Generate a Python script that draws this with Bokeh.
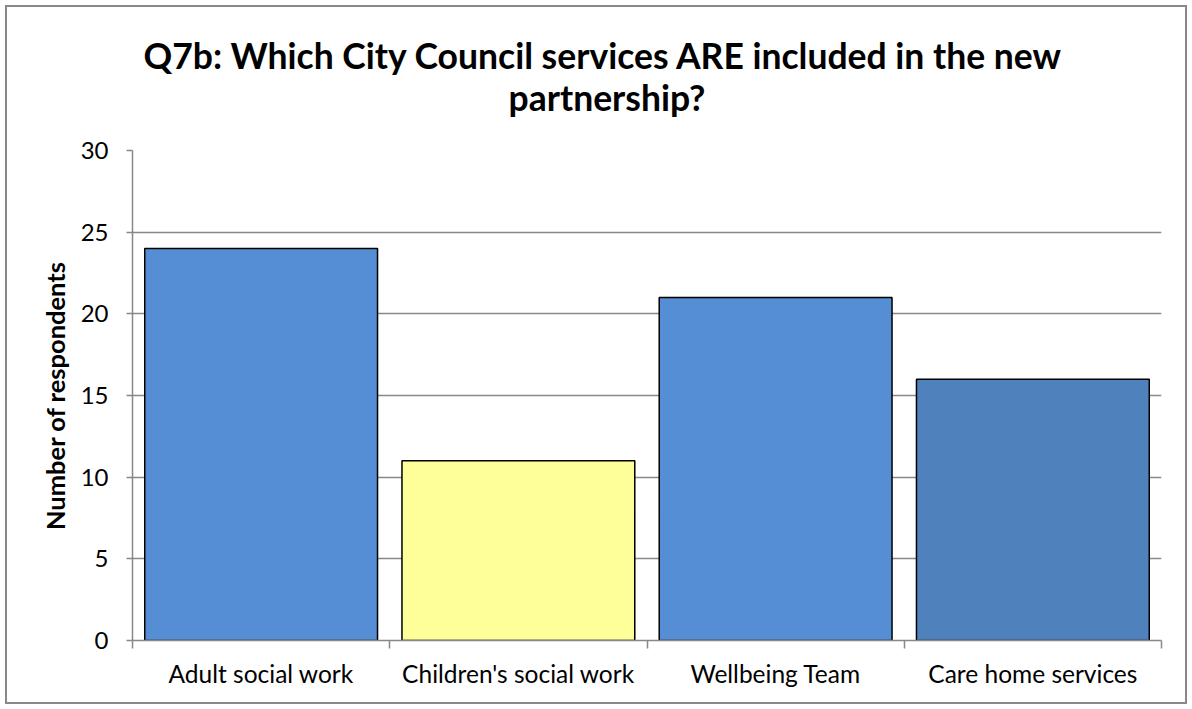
from bokeh.plotting import figure
from bokeh.models import (Range1d, LinearAxis, FixedTicker, Title, ColumnDataSource, Grid)
from bokeh.embed import file_html
from bokeh.resources import INLINE

categories = ["Adult social work", "Children's social work", "Wellbeing Team", "Care home services"]
values = [24, 11, 21, 16]
colors = ["#558ED5", "#FFFF99", "#558ED5", "#4F81BD"]
y_ticks = [0, 5, 10, 15, 20, 25, 30]
title_lines = ["Q7b: Which City Council services ARE included in the new", "partnership?"]
y_label = "Number of respondents"

FONT = "Lato"
GRAY = "#888888"

n = len(categories)
centers = [i + 0.5 for i in range(n)]

p = figure(width=1182, height=699, output_backend="svg", toolbar_location=None,
           x_range=Range1d(0, n), y_range=Range1d(0, 30),
           x_axis_location=None, y_axis_location=None,
           min_border_left=125, min_border_right=28, min_border_top=143, min_border_bottom=66,
           background_fill_color="white", border_fill_color="white")
p.outline_line_color = None
p.styles = {"border": "2px solid #888888", "margin-left": "5px", "margin-top": "5px"}
for g in p.grid:
    g.visible = False

src = ColumnDataSource(dict(x=centers, top=values, color=colors, name=categories))

grid = Grid(dimension=1, ticker=FixedTicker(ticks=y_ticks), grid_line_color=GRAY, grid_line_width=1.5)
p.add_layout(grid, "center")

p.vbar(x="x", top="top", width=0.905, source=src, fill_color="color",
       line_color="black", line_width=1.5)

yaxis = LinearAxis(ticker=FixedTicker(ticks=y_ticks), axis_label=y_label)
yaxis.axis_line_color = GRAY
yaxis.axis_line_width = 1.5
yaxis.major_tick_line_color = GRAY
yaxis.major_tick_line_width = 1.5
yaxis.major_tick_out = 6
yaxis.major_tick_in = 0
yaxis.minor_tick_line_color = None
yaxis.major_label_text_font = FONT
yaxis.major_label_text_font_size = "24px"
yaxis.major_label_text_color = "black"
yaxis.major_label_standoff = 18
yaxis.axis_label_text_font = FONT
yaxis.axis_label_text_font_size = "25.5px"
yaxis.axis_label_text_font_style = "bold"
yaxis.axis_label_text_color = "black"
yaxis.axis_label_standoff = 8
p.add_layout(yaxis, "left")

bnd_axis = LinearAxis(ticker=FixedTicker(ticks=list(range(n + 1))))
bnd_axis.axis_line_color = GRAY
bnd_axis.axis_line_width = 1.5
bnd_axis.major_tick_line_color = GRAY
bnd_axis.major_tick_line_width = 1.5
bnd_axis.major_tick_out = 8
bnd_axis.major_tick_in = 0
bnd_axis.minor_tick_line_color = None
bnd_axis.major_label_text_font_size = "1px"
bnd_axis.major_label_text_alpha = 0
bnd_axis.major_label_standoff = 0
p.add_layout(bnd_axis, "below")

xaxis = LinearAxis(ticker=FixedTicker(ticks=centers),
                   major_label_overrides={c: name for c, name in zip(centers, categories)})
xaxis.axis_line_color = None
xaxis.major_tick_line_color = None
xaxis.minor_tick_line_color = None
xaxis.major_label_text_font = FONT
xaxis.major_label_text_font_size = "24.5px"
xaxis.major_label_text_color = "black"
xaxis.major_label_standoff = 4
p.add_layout(xaxis, "below")

# invisible spacer between the plot frame and the two title lines
spacer = Title(text=" ", align="left", text_font=FONT, text_font_size="10px",
               text_color="white", standoff=18)
t2 = Title(text=title_lines[1], align="left", text_font=FONT, text_font_size="35.5px",
           text_font_style="bold", text_color="black", standoff=0, offset=376)
t1 = Title(text=title_lines[0], align="left", text_font=FONT, text_font_size="35.5px",
           text_font_style="bold", text_color="black", standoff=-6, offset=11)
p.add_layout(spacer, "above")
p.add_layout(t2, "above")
p.add_layout(t1, "above")

open("out.html", "w").write(file_html(p, INLINE))
